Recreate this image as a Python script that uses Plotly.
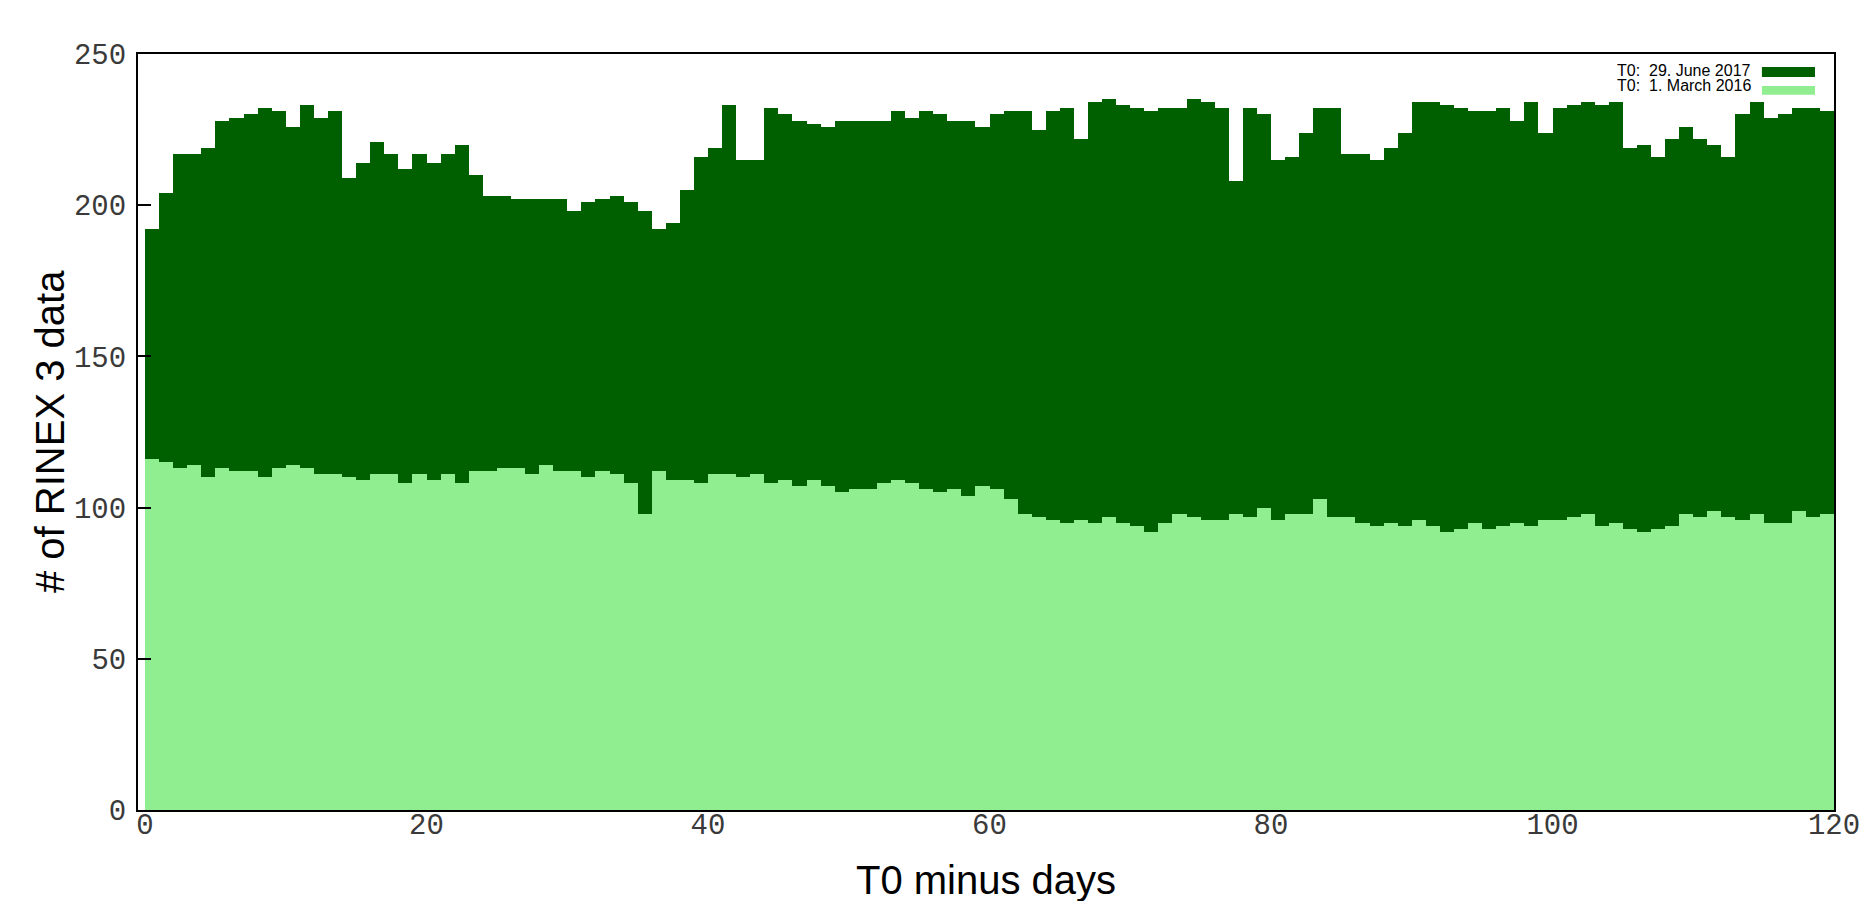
import plotly.graph_objects as go

# Days before the reference epoch T0
days = list(range(120))

# Number of RINEX 3 files per day, T0 = 29 June 2017
june_2017 = [
    192, 204, 217, 217, 219, 228, 229, 230, 232, 231,
    226, 233, 229, 231, 209, 214, 221, 217, 212, 217,
    214, 217, 220, 210, 203, 203, 202, 202, 202, 202,
    198, 201, 202, 203, 201, 198, 192, 194, 205, 216,
    219, 233, 215, 215, 232, 230, 228, 227, 226, 228,
    228, 228, 228, 231, 229, 231, 230, 228, 228, 226,
    230, 231, 231, 225, 231, 232, 222, 234, 235, 233,
    232, 231, 232, 232, 235, 234, 232, 208, 232, 230,
    215, 216, 224, 232, 232, 217, 217, 215, 219, 224,
    234, 234, 233, 232, 231, 231, 232, 228, 234, 224,
    232, 233, 234, 233, 234, 219, 220, 216, 222, 226,
    222, 220, 216, 230, 234, 229, 230, 232, 232, 231,
]

# Number of RINEX 3 files per day, T0 = 1 March 2016
march_2016 = [
    116, 115, 113, 114, 110, 113, 112, 112, 110, 113,
    114, 113, 111, 111, 110, 109, 111, 111, 108, 111,
    109, 111, 108, 112, 112, 113, 113, 111, 114, 112,
    112, 110, 112, 111, 108, 98, 112, 109, 109, 108,
    111, 111, 110, 111, 108, 109, 107, 109, 107, 105,
    106, 106, 108, 109, 108, 106, 105, 106, 104, 107,
    106, 103, 98, 97, 96, 95, 96, 95, 97, 95,
    94, 92, 95, 98, 97, 96, 96, 98, 97, 100,
    96, 98, 98, 103, 97, 97, 95, 94, 95, 94,
    96, 94, 92, 93, 95, 93, 94, 95, 94, 96,
    96, 97, 98, 94, 95, 93, 92, 93, 94, 98,
    97, 99, 97, 96, 98, 95, 95, 99, 97, 98,
]

series_names = ["T0:  29. June 2017", "T0:  1. March 2016"]
series_colors = ["#006000", "#90EE90"]

x_ticks = [0, 20, 40, 60, 80, 100, 120]
y_ticks = [0, 50, 100, 150, 200, 250]

fig = go.Figure()
for name, vals, col in zip(series_names, [june_2017, march_2016], series_colors):
    fig.add_trace(go.Bar(
        x=days, y=vals, name=name, width=1, offset=0,
        marker=dict(color=col, line=dict(width=0)),
        showlegend=False,
    ))

tick_font = dict(family="Liberation Mono", size=29, color="#3a3a3a")
title_font = dict(family="Liberation Sans", size=40, color="black")

fig.update_layout(
    width=1869, height=901,
    margin=dict(l=138, r=35, t=54, b=91, pad=0),
    paper_bgcolor="white", plot_bgcolor="white",
    barmode="overlay", bargap=0,
    xaxis=dict(
        range=[-0.5, 120], tickvals=x_ticks, ticks="", showgrid=False,
        zeroline=False, showline=True, linecolor="black", linewidth=2,
        mirror=True, tickfont=tick_font, ticklabelstandoff=-13,
        automargin=False,
    ),
    yaxis=dict(
        range=[0, 250], tickvals=y_ticks, ticks="inside", ticklen=13,
        tickwidth=2, tickcolor="black", showgrid=False, zeroline=False,
        showline=True, linecolor="black", linewidth=2, mirror=True,
        tickfont=tick_font, ticklabelstandoff=4, automargin=False,
    ),
)

# Axis titles
fig.add_annotation(
    x=0.5, y=0, xref="paper", yref="paper", text="T0 minus days",
    showarrow=False, xanchor="center", yanchor="middle", yshift=-70,
    font=title_font,
)
fig.add_annotation(
    x=0, y=0.5, xref="paper", yref="paper", text="# of RINEX 3 data",
    showarrow=False, xanchor="center", yanchor="middle", xshift=-88,
    textangle=-90, font=title_font,
)

# Key in the upper right corner: label text followed by a colour swatch
key_rows = [(0.9783, 0.9696, 0.9827), (0.9579, 0.9462, 0.9576)]
for (ty, y0, y1), name, col in zip(key_rows, series_names, series_colors):
    fig.add_annotation(
        x=0.9523, y=ty, xref="paper", yref="paper", text=name,
        showarrow=False, xanchor="right", yanchor="middle",
        font=dict(family="Liberation Sans", size=16, color="black"),
    )
    fig.add_shape(
        type="rect", xref="paper", yref="paper",
        x0=0.9575, x1=0.9888, y0=y0, y1=y1,
        fillcolor=col, line=dict(width=0),
    )

fig.write_html("out.html")
